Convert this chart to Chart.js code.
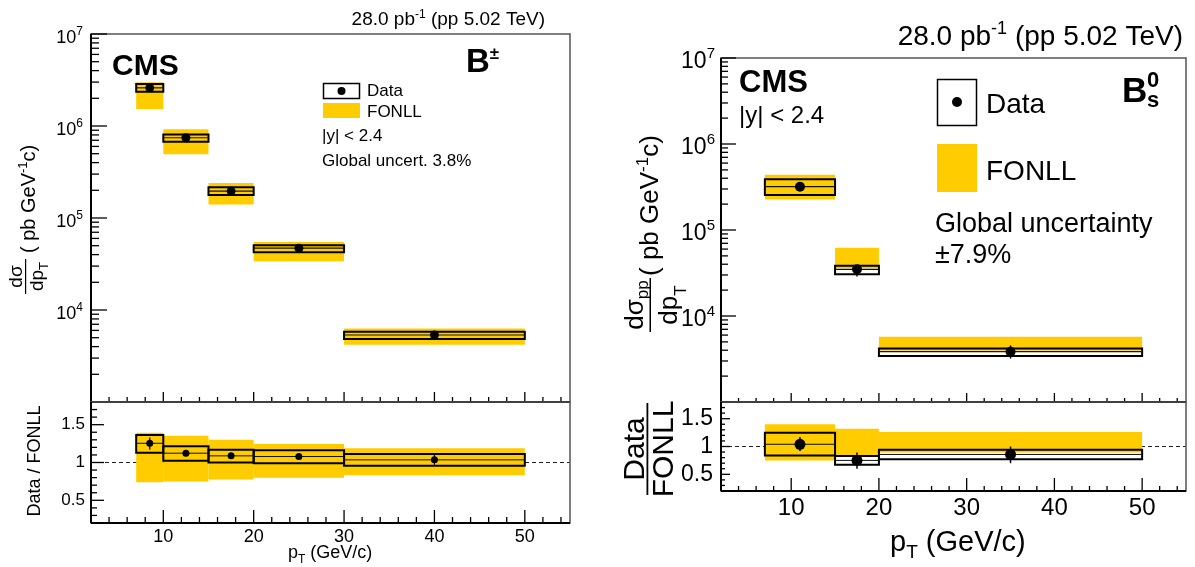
<!DOCTYPE html>
<html>
<head>
<meta charset="utf-8">
<script src="https://cdn.jsdelivr.net/npm/chart.js@4.4.1/dist/chart.umd.min.js"></script>
<style>
  html, body { margin: 0; padding: 0; background: #fff; }
  #wrap { position: relative; width: 1195px; height: 567px; }
  #wrap canvas { position: absolute; left: 0; top: 0; }
</style>
</head>
<body>
<div id="wrap">
  <canvas id="bpTop" width="1195" height="567"></canvas>
  <canvas id="bpRatio" width="1195" height="567"></canvas>
  <canvas id="bsTop" width="1195" height="567"></canvas>
  <canvas id="bsRatio" width="1195" height="567"></canvas>
</div>
<script>
const W = 1195, H = 567;
const FONT = '"Liberation Sans", Arial, Helvetica, sans-serif';
const YELLOW = '#ffcc00';

// axes (shared by both panels)
const xRange = [2, 55];
const xMajor = [10, 20, 30, 40, 50];
const xMinor = [4, 6, 8, 12, 14, 16, 18, 22, 24, 26, 28, 32, 34, 36, 38, 42, 44, 46, 48, 52, 54];
const xsecRange = [1e3, 1e7];
const xsecLabelExp = [4, 5, 6, 7];
const ratioRange = [0.2, 1.8];
const ratioMajor = [0.5, 1, 1.5];

// B+- : cross section (pb GeV^-1 c)
const bpEdges = [7, 10, 15, 20, 30, 50];
const bpPt = [8.5, 12.5, 17.5, 25, 40];
const bpXsec = [2.6e6, 7.45e5, 1.96e5, 4.7e4, 5.35e3];
const bpStatLo = [2.5e6, 7.2e5, 1.9e5, 4.55e4, 5.1e3];
const bpStatHi = [2.7e6, 7.7e5, 2.02e5, 4.85e4, 5.6e3];
const bpSystLo = [2.36e6, 6.75e5, 1.78e5, 4.24e4, 4.84e3];
const bpSystHi = [2.86e6, 8.1e5, 2.16e5, 5.05e4, 5.8e3];
const bpFonllLo = [1.53e6, 4.92e5, 1.4e5, 3.38e4, 4.2e3];
const bpFonllHi = [2.98e6, 9.2e5, 2.4e5, 5.48e4, 6.3e3];
// B+- : data / FONLL
const bpRatio = [1.254, 1.123, 1.088, 1.079, 1.035];
const bpRatioStatLo = [1.17, 1.09, 1.05, 1.04, 0.97];
const bpRatioStatHi = [1.33, 1.16, 1.12, 1.12, 1.1];
const bpRatioSystLo = [1.13, 1.022, 1.0, 0.99, 0.956];
const bpRatioSystHi = [1.364, 1.215, 1.17, 1.162, 1.114];
const bpRatioFonllLo = [0.74, 0.75, 0.776, 0.8, 0.83];
const bpRatioFonllHi = [1.395, 1.355, 1.3, 1.245, 1.19];

// Bs0 : cross section
const bsEdges = [7, 15, 20, 50];
const bsPt = [11, 17.5, 35];
const bsXsec = [3.19e5, 3.49e4, 3.85e3];
const bsStatLo = [2.95e5, 2.87e4, 3.2e3];
const bsStatHi = [3.45e5, 3.92e4, 4.55e3];
const bsSystLo = [2.55e5, 3.05e4, 3.43e3];
const bsSystHi = [3.89e5, 3.85e4, 4.2e3];
const bsFonllLo = [2.27e5, 3.6e4, 3.95e3];
const bsFonllHi = [4.4e5, 6.2e4, 5.75e3];
// Bs0 : data / FONLL
const bsRatio = [1.04, 0.75, 0.857];
const bsRatioStatLo = [0.92, 0.6, 0.7];
const bsRatioStatHi = [1.17, 0.89, 1.0];
const bsRatioSystLo = [0.84, 0.67, 0.77];
const bsRatioSystHi = [1.245, 0.83, 0.94];
const bsRatioFonllLo = [0.75, 0.81, 0.89];
const bsRatioFonllHi = [1.4, 1.32, 1.26];

// plot frames in page pixels
const areas = {
  bpTop: { left: 91, right: 570, top: 34, bottom: 402 },
  bpRatio: { left: 91, right: 570, top: 402, bottom: 523 },
  bsTop: { left: 721, right: 1186, top: 58, bottom: 402 },
  bsRatio: { left: 721, right: 1186, top: 402, bottom: 491 }
};

Chart.defaults.font.family = FONT;
Chart.defaults.color = '#000';

function boxPath(x0, x1, lo, hi) {
  return [{ x: x0, y: lo }, { x: x0, y: hi }, { x: x1, y: hi }, { x: x1, y: lo }, { x: x0, y: lo }];
}

function buildSets(s, st) {
  const sets = [];
  if (st.unity) {
    sets.push({ data: [{ x: xRange[0], y: 1 }, { x: xRange[1], y: 1 }], showLine: true,
      borderColor: '#222', borderWidth: 1, borderDash: [4, 3], pointRadius: 0, order: 9 });
  }
  s.pt.forEach((pt, i) => {
    const x0 = s.edges[i], x1 = s.edges[i + 1];
    sets.push({ data: boxPath(x0, x1, s.fLo[i], s.fHi[i]), showLine: true, fill: 'shape',
      backgroundColor: YELLOW, borderColor: 'rgba(0,0,0,0)', borderWidth: 0, pointRadius: 0, order: 8 });
    sets.push({ data: boxPath(x0, x1, s.sLo[i], s.sHi[i]), showLine: true, fill: false,
      borderColor: '#000', borderWidth: st.box, borderCapStyle: 'square', pointRadius: 0, order: 4 });
    sets.push({ data: [{ x: x0, y: s.val[i] }, { x: x1, y: s.val[i] }], showLine: true,
      borderColor: '#111', borderWidth: st.mid, pointRadius: 0, order: 3 });
    sets.push({ data: [{ x: pt, y: s.eLo[i] }, { x: pt, y: s.eHi[i] }], showLine: true,
      borderColor: '#000', borderWidth: st.err, pointRadius: 0, order: 2 });
  });
  sets.push({ data: s.pt.map((pt, i) => ({ x: pt, y: s.val[i] })), showLine: false,
    pointRadius: st.dot, pointBackgroundColor: '#000', pointBorderWidth: 0, order: 1 });
  return sets;
}

// text with pieces of different size / offset: [text, size, dy, bold]
function rich(ctx, x, y, parts, align) {
  let w = 0;
  parts.forEach(p => {
    ctx.font = (p[3] ? 'bold ' : '') + p[1] + 'px ' + FONT;
    p.w = ctx.measureText(p[0]).width;
    w += p.w;
  });
  let cx = align === 'right' ? x - w : align === 'center' ? x - w / 2 : x;
  ctx.textAlign = 'left';
  ctx.textBaseline = 'alphabetic';
  parts.forEach(p => {
    ctx.font = (p[3] ? 'bold ' : '') + p[1] + 'px ' + FONT;
    ctx.fillText(p[0], cx, y + (p[2] || 0));
    cx += p.w;
  });
}

function rotated(ctx, ox, oy, fn) {
  ctx.save();
  ctx.translate(ox, oy);
  ctx.rotate(-Math.PI / 2);
  fn();
  ctx.restore();
}

function drawBpText(ctx) {
  ctx.fillStyle = '#000';
  rich(ctx, 545, 25, [['28.0 pb', 19], ['-1', 12, -7], [' (pp 5.02 TeV)', 19]], 'right');
  rich(ctx, 112, 75, [['CMS', 30, 0, true]], 'left');
  rich(ctx, 466, 72, [['B', 33, 0, true], ['±', 17, -13, true]], 'left');
  // legend
  ctx.strokeStyle = '#000';
  ctx.lineWidth = 1.5;
  ctx.strokeRect(323.5, 83.5, 36, 15);
  ctx.beginPath(); ctx.arc(341.5, 91, 4, 0, 2 * Math.PI); ctx.fill();
  ctx.fillStyle = YELLOW;
  ctx.fillRect(323, 103, 37, 15);
  ctx.fillStyle = '#000';
  rich(ctx, 367, 96, [['Data', 17]], 'left');
  rich(ctx, 367, 117, [['FONLL', 17]], 'left');
  rich(ctx, 322, 141, [['|y| < 2.4', 17]], 'left');
  rich(ctx, 322, 166, [['Global uncert. 3.8%', 17]], 'left');
  // y titles
  rotated(ctx, 0, 296, () => {
    rich(ctx, 19.5, 22, [['d\u03c3', 19]], 'center');
    ctx.fillRect(2, 25, 35, 1.2);
    rich(ctx, 19.5, 43, [['dp', 19], ['T', 13, 5]], 'center');
    rich(ctx, 43, 35, [['( pb GeV', 20], ['-1', 13, -8], ['c)', 20]], 'left');
  });
  rotated(ctx, 0, 461, () => {
    rich(ctx, 0, 40, [['Data / FONLL', 18]], 'center');
  });
  rich(ctx, 288, 558, [['p', 18], ['T', 12, 5], [' (GeV/c)', 18]], 'left');
}

function drawBsText(ctx) {
  ctx.fillStyle = '#000';
  rich(ctx, 1183, 45, [['28.0 pb', 28], ['-1', 18, -11], [' (pp 5.02 TeV)', 28]], 'right');
  rich(ctx, 739, 92, [['CMS', 31, 0, true]], 'left');
  rich(ctx, 739, 123, [['|y| < 2.4', 24]], 'left');
  rich(ctx, 1122, 102, [['B', 35, 0, true]], 'left');
  rich(ctx, 1147, 87, [['0', 22, 0, true]], 'left');
  rich(ctx, 1147, 107, [['s', 22, 0, true]], 'left');
  // legend
  ctx.strokeStyle = '#000';
  ctx.lineWidth = 1.5;
  ctx.strokeRect(937.5, 79.5, 39, 46);
  ctx.beginPath(); ctx.arc(957, 102, 5, 0, 2 * Math.PI); ctx.fill();
  ctx.fillStyle = YELLOW;
  ctx.fillRect(937, 144, 40, 48);
  ctx.fillStyle = '#000';
  rich(ctx, 986, 113, [['Data', 28]], 'left');
  rich(ctx, 986, 180, [['FONLL', 28]], 'left');
  rich(ctx, 935, 232, [['Global uncertainty', 27]], 'left');
  rich(ctx, 935, 263, [['\u00b17.9%', 27]], 'left');
  // y titles
  rotated(ctx, 600, 335, () => {
    rich(ctx, 30, 43, [['d\u03c3', 26], ['pp', 17, 5]], 'center');
    ctx.fillRect(3, 49.5, 54, 1.5);
    rich(ctx, 30, 77, [['dp', 26], ['T', 17, 9]], 'center');
    rich(ctx, 59, 58, [['( pb GeV', 26], ['-1', 17, -10], ['c)', 26]], 'left');
  });
  rotated(ctx, 600, 449, () => {
    rich(ctx, 0, 44, [['Data', 30]], 'center');
    ctx.fillRect(-46, 46.5, 92, 1.8);
    rich(ctx, 0, 73, [['FONLL', 30]], 'center');
  });
  rich(ctx, 890, 551, [['p', 29], ['T', 19, 7], [' (GeV/c)', 29]], 'left');
}

const textDrawers = { bp: drawBpText, bs: drawBsText };

// ROOT style frame with inward ticks
const rootFrame = {
  id: 'rootFrame',
  afterDatasetsDraw(chart, args, o) {
    const { ctx, chartArea: a } = chart;
    const x = chart.scales.x, y = chart.scales.y;
    const seg = (x0, y0, x1, y1) => { ctx.beginPath(); ctx.moveTo(x0, y0); ctx.lineTo(x1, y1); ctx.stroke(); };
    ctx.save();
    ctx.strokeStyle = '#555';
    ctx.lineWidth = 1.5;
    ctx.strokeRect(a.left, a.top, a.right - a.left, a.bottom - a.top);
    ctx.strokeStyle = '#000';
    ctx.lineWidth = 2;
    seg(a.left, a.top, a.left, a.bottom);
    seg(a.left, a.bottom, a.right, a.bottom);
    ctx.lineWidth = 1.3;
    xMajor.forEach(v => { const p = x.getPixelForValue(v); seg(p, a.bottom, p, a.bottom - o.xMaj); });
    xMinor.forEach(v => { const p = x.getPixelForValue(v); seg(p, a.bottom, p, a.bottom - o.xMin); });
    const yMaj = [], yMin = [];
    if (o.log) {
      for (let e = 3; e <= 7; e++) {
        yMaj.push(Math.pow(10, e));
        if (e < 7) for (let m = 2; m <= 9; m++) yMin.push(m * Math.pow(10, e));
      }
    } else {
      for (let k = 3; k <= 17; k++) {
        const v = k / 10;
        if (ratioMajor.some(r => Math.abs(r - v) < 1e-6)) yMaj.push(v); else yMin.push(v);
      }
    }
    yMaj.forEach(v => { const p = y.getPixelForValue(v); seg(a.left, p, a.left + o.yMaj, p); });
    yMin.forEach(v => { const p = y.getPixelForValue(v); seg(a.left, p, a.left + o.yMin, p); });
    if (o.log) {
      ctx.fillStyle = '#000';
      xsecLabelExp.forEach(e => {
        const p = y.getPixelForValue(Math.pow(10, e));
        rich(ctx, a.left - o.gap, p + o.base, [['10', o.font], [String(e), Math.round(o.font * 0.66), -o.font * 0.45]], 'right');
      });
    }
    ctx.restore();
  },
  afterDraw(chart, args, o) {
    if (o.text) textDrawers[o.text](chart.ctx);
  }
};

function makeChart(id, sets, yScale, xTicks, frameOpts) {
  const area = areas[id];
  return new Chart(document.getElementById(id), {
    type: 'scatter',
    data: { datasets: sets },
    options: {
      responsive: false,
      animation: false,
      events: [],
      layout: { autoPadding: false, padding: { left: 0, top: area.top, right: W - area.right, bottom: 0 } },
      plugins: { legend: { display: false }, tooltip: { enabled: false }, rootFrame: frameOpts },
      scales: {
        x: Object.assign({
          type: 'linear', min: xRange[0], max: xRange[1],
          grid: { display: false, drawTicks: false }, border: { display: false },
          afterFit: s => { s.height = H - area.bottom; }
        }, xTicks),
        y: Object.assign({
          grid: { display: false, drawTicks: false }, border: { display: false },
          afterFit: s => { s.width = area.left; }
        }, yScale)
      }
    },
    plugins: [rootFrame]
  });
}

const logY = { type: 'logarithmic', min: xsecRange[0], max: xsecRange[1], ticks: { display: false } };
const ratioY = (size, pad) => ({
  type: 'linear', min: ratioRange[0], max: ratioRange[1],
  afterBuildTicks: s => { s.ticks = ratioMajor.map(v => ({ value: v })); },
  ticks: { font: { size: size }, padding: pad, color: '#000', callback: v => String(v) }
});
const noXLabels = { ticks: { display: false } };
const xLabels = (size, pad) => ({
  afterBuildTicks: s => { s.ticks = xMajor.map(v => ({ value: v })); },
  ticks: { font: { size: size }, padding: pad, color: '#000', maxRotation: 0, callback: v => String(v) }
});

const bpTopSeries = { edges: bpEdges, pt: bpPt, val: bpXsec, eLo: bpStatLo, eHi: bpStatHi,
  sLo: bpSystLo, sHi: bpSystHi, fLo: bpFonllLo, fHi: bpFonllHi };
const bpRatioSeries = { edges: bpEdges, pt: bpPt, val: bpRatio, eLo: bpRatioStatLo, eHi: bpRatioStatHi,
  sLo: bpRatioSystLo, sHi: bpRatioSystHi, fLo: bpRatioFonllLo, fHi: bpRatioFonllHi };
const bsTopSeries = { edges: bsEdges, pt: bsPt, val: bsXsec, eLo: bsStatLo, eHi: bsStatHi,
  sLo: bsSystLo, sHi: bsSystHi, fLo: bsFonllLo, fHi: bsFonllHi };
const bsRatioSeries = { edges: bsEdges, pt: bsPt, val: bsRatio, eLo: bsRatioStatLo, eHi: bsRatioStatHi,
  sLo: bsRatioSystLo, sHi: bsRatioSystHi, fLo: bsRatioFonllLo, fHi: bsRatioFonllHi };

makeChart('bpTop', buildSets(bpTopSeries, { box: 2, mid: 1.2, err: 1.2, dot: 4.5 }), logY, noXLabels,
  { xMaj: 10, xMin: 5, yMaj: 16, yMin: 8, log: true, font: 18, gap: 8, base: 9, text: 'bp' });
makeChart('bpRatio', buildSets(bpRatioSeries, { box: 2, mid: 1, err: 1.2, dot: 3.5, unity: true }), ratioY(17, 6), xLabels(18, 3),
  { xMaj: 13, xMin: 6, yMaj: 13, yMin: 6, log: false });
makeChart('bsTop', buildSets(bsTopSeries, { box: 2, mid: 1.2, err: 1.5, dot: 5 }), logY, noXLabels,
  { xMaj: 9, xMin: 4, yMaj: 15, yMin: 7, log: true, font: 23, gap: 6, base: 10, text: 'bs' });
makeChart('bsRatio', buildSets(bsRatioSeries, { box: 2, mid: 1, err: 1.5, dot: 5.5, unity: true }), ratioY(23, 8), xLabels(24, 3),
  { xMaj: 13, xMin: 5, yMaj: 9, yMin: 4, log: false });
</script>
</body>
</html>
